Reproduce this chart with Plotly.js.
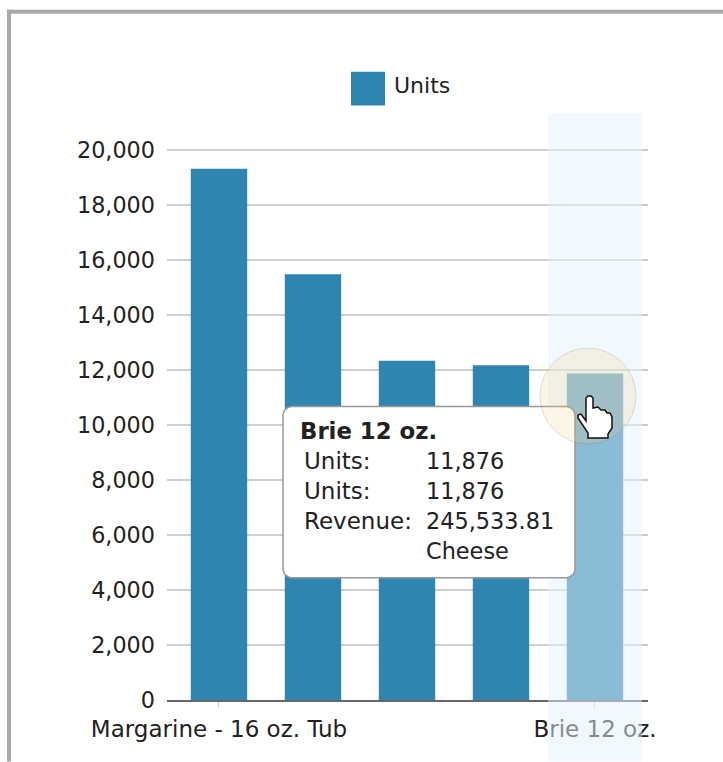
<!DOCTYPE html>
<html><head><meta charset="utf-8">
<script src="https://cdn.plot.ly/plotly-3.0.0.min.js"></script>
<style>html,body{margin:0;padding:0;background:#fff;overflow:hidden}#c{width:723px;height:762px}</style>
</head><body><div id="c"></div>
<script>
const categories = ['Margarine - 16 oz. Tub','(unlabelled 2)','(unlabelled 3)','(unlabelled 4)','Brie 12 oz.'];
const units = [19320,15480,12340,12170,11876];
const shownLabels = ['Margarine - 16 oz. Tub','Brie 12 oz.'];
const seriesName = 'Units';
const tipTitle = 'Brie 12 oz.';
const tipLabels = ['Units:','Units:','Revenue:',''];
const tipValues = ['11,876','11,876','245,533.81','Cheese'];
const yTicks = [0,2000,4000,6000,8000,10000,12000,14000,16000,18000,20000];

const L=167,R=648,T=147.5,B=700.5;
const xp=p=>(p-L)/(R-L), yp=p=>(B-p)/(B-T);
const FONT='"DejaVu Sans", Verdana, sans-serif';
const path=pts=>pts.map((q,i)=>(i?'L':'M')+xp(q[0]).toFixed(5)+','+yp(q[1]).toFixed(5)).join('')+'Z';
const rect=(x0,y0,x1,y1,fill,line)=>({type:'rect',xref:'paper',yref:'paper',x0:xp(x0),x1:xp(x1),y0:yp(y0),y1:yp(y1),fillcolor:fill,line:line||{width:0},layer:'above'});
function round(x0,y0,x1,y1,r){
  const s=[];const n=5;
  const arc=(cx,cy,a0)=>{for(let i=0;i<=n;i++){const a=a0+i/n*Math.PI/2;s.push([cx+r*Math.cos(a),cy+r*Math.sin(a)]);}};
  arc(x1-r,y1-r,0);arc(x0+r,y1-r,Math.PI/2);arc(x0+r,y0+r,Math.PI);arc(x1-r,y0+r,1.5*Math.PI);
  return s;
}
const hand=[[586,398],[588,396],[591,396],[593,398],[593,408],[598,407],[601,410],[605,410],[607,413],[610,413],[612,417],[612,428],[608,434],[608,438],[588,438],[588,433],[578,418],[578,415],[581,414],[586,421]];

const shapes=[
  rect(7,9,11,762,'#a9a9a9'),
  rect(7,9,723,13,'#a9a9a9'),
  rect(351,71,385,105,'#2f85af'),
  {type:'rect',xref:'x',yref:'paper',x0:3.5,x1:4.5,y0:yp(113),y1:yp(762),fillcolor:'rgba(229,241,255,0.5)',line:{width:0},layer:'above'},
  {type:'path',xref:'paper',yref:'paper',path:path(round(283,406.5,575,578,9)),fillcolor:'#ffffff',line:{color:'#999999',width:1.5},layer:'above'},
  {type:'circle',xref:'paper',yref:'paper',x0:xp(540),x1:xp(636),y0:yp(348),y1:yp(444),fillcolor:'rgba(245,205,125,0.2)',line:{color:'rgba(120,110,70,0.2)',width:1},layer:'above'},
  {type:'path',xref:'paper',yref:'paper',path:path(hand),fillcolor:'#ffffff',line:{color:'#111111',width:1.5},layer:'above'}
];
const txt=(x,y,t,size)=>({xref:'paper',yref:'paper',x:xp(x),y:yp(y),text:t,showarrow:false,xanchor:'left',yanchor:'middle',borderpad:0,font:{family:FONT,size:size||22.5,color:'#222'}});
const ann=[txt(393,85,seriesName,22),txt(299,431,'<b>'+tipTitle+'</b>',22.8)];
tipLabels.forEach((t,i)=>{ if(t) ann.push(txt(303,461+30*i,t,23)); ann.push(txt(425,461+30*i,tipValues[i],22.4)); });

Plotly.newPlot('c',[{
  type:'bar',x:categories,y:units,name:seriesName,width:0.6,
  marker:{color:'#2f85af'},hoverinfo:'skip'
}],{
  width:723,height:762,paper_bgcolor:'#fff',plot_bgcolor:'#fff',showlegend:false,
  margin:{l:L,r:723-R,t:T,b:762-B,pad:0},
  font:{family:FONT,size:22,color:'#222'},
  xaxis:{type:'category',categoryorder:'array',categoryarray:categories,range:[-0.553,4.564],
    tickmode:'array',tickvals:shownLabels,ticktext:shownLabels,tickangle:0,
    ticks:'outside',ticklen:6,tickcolor:'#ccc',tickwidth:1,showgrid:false,ticklabelstandoff:1,
    showline:true,linecolor:'#666',linewidth:2,zeroline:false,tickfont:{family:FONT,size:23,color:'#222'}},
  yaxis:{range:[0,20073],tickmode:'array',tickvals:yTicks,tickformat:',d',ticks:'',
    gridcolor:'#cfcfcf',gridwidth:1.5,zeroline:false,showline:false,ticklabelstandoff:11,
    tickfont:{family:FONT,size:22.3,color:'#222'}},
  shapes:shapes,annotations:ann
},{displayModeBar:false,staticPlot:true});
</script></body></html>
